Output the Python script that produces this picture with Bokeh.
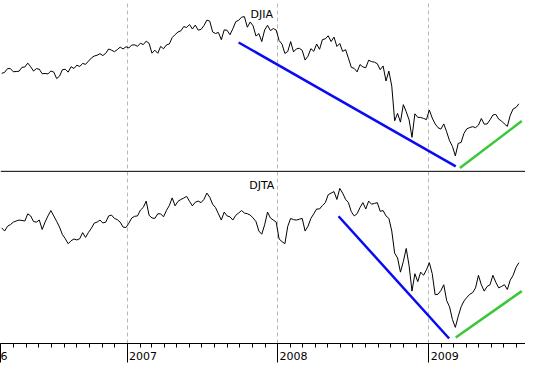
import pandas as pd
from bokeh.plotting import figure
from bokeh.models import Range1d, FixedTicker, Span, Label, CustomJSTickFormatter
from bokeh.embed import file_html
from bokeh.resources import INLINE

# ---------------- data ----------------
week_start = "2006-03-03"   # weekly closes (Fridays)

djia = [
    # 2006
    11022, 11076, 11279, 11280, 11109,
    11120, 11137, 11347, 11367,
    11577, 11380, 11144, 11278,
    11247, 11000, 11015, 10990, 11150,
    11090, 10739, 10868, 11219,
    11240, 11088, 11381, 11284,
    11464, 11392, 11560, 11508, 11679,
    11850, 11960, 12002, 12090,
    11986, 12108, 12342, 12280,
    12194, 12307, 12445, 12343, 12463,
    # 2007
    12398, 12556, 12565, 12487,
    12653, 12580, 12767, 12647,
    12114, 12276, 12110, 12481, 12354,
    12560, 12612, 12961, 13120,
    13264, 13326, 13556, 13507,
    13668, 13424, 13639, 13360, 13408,
    13611, 13907, 13851, 13265,
    13181, 13239, 12845, 13378, 13358,
    13113, 13442, 13820, 13896,
    14066, 14093, 13522, 13806,
    13595, 13043, 13176, 12743, 13372,
    13625, 13339, 13450, 13366,
    # 2008
    12800, 12606, 12099, 12207,
    12743, 12183, 12348, 12381, 12266,
    11740, 11951, 12361, 12216,
    12610, 12325, 12849, 12891,
    13058, 12745, 12986, 12479, 12638,
    12210, 12307, 11843, 11346,
    11288, 11100, 11496, 11370,
    11326, 11734, 11659, 11628, 11543,
    11220, 11421, 10609, 11143,
    10325, 8451, 8852, 8378, 9325,
    8943, 8497, 7552, 8829,
    8635, 8629, 8579, 8515,
    # 2009
    9034, 8599, 8281, 8077, 8000,
    8280, 7850, 7366, 7063,
    6547, 7224, 7278, 7776,
    8018, 8083, 8131, 8076,
    8212, 8575, 8268, 8277, 8500,
    8763, 8799, 8539, 8438,
    8280, 8146, 8743, 9093, 9172,
    9370,
]

djta = [
    # 2006
    4561, 4485, 4600, 4640, 4700, 4727, 4750, 4740, 4727, 4900,
    4850, 4714, 4700, 4750, 4522, 4700, 4850, 4979, 4850, 4720,
    4580, 4400, 4300, 4179, 4250, 4294, 4270, 4300, 4447, 4332,
    4450, 4550, 4675, 4700, 4750, 4680, 4700, 4850, 4870, 4789,
    4760, 4700, 4580, 4570,
    # 2007
    4675, 4800, 4840, 4850, 4990, 5056, 5207, 4865, 4800, 4789,
    4900, 4900, 4828, 4980, 5100, 5285, 5093, 5200, 5246, 5280,
    5321, 5200, 5093, 5180, 5207, 5170, 5250, 5400, 5300, 5132,
    5050, 4900, 4750, 4942, 4850, 4828, 4750, 4865, 4920, 4979,
    4920, 4903, 4870, 4800, 4714, 4485, 4408, 4636, 4942, 4800,
    4750, 4700,
    # 2008
    4294, 4230, 4179, 4600, 4789, 4760, 4750, 4770, 4789, 4485,
    4600, 4789, 4900, 5017, 5017, 5100, 5170, 5360, 5400, 5436,
    5246, 5513, 5399, 5250, 5170, 4950, 4850, 4903, 5050, 5170,
    5017, 5207, 5132, 5150, 5170, 4960, 4979, 4850, 4789, 4485,
    3951, 3836, 3494, 3750, 4065, 3647, 3037, 3457, 3266, 3494,
    3418, 3550,
    # 2009
    3722, 3457, 2951, 2961, 3050, 3190, 2809, 2658, 2352, 2163,
    2429, 2658, 2800, 2886, 2962, 3000, 3115, 3418, 3190, 3037,
    3150, 3190, 3418, 3250, 3115, 3150, 3190, 3076, 3300, 3418,
    3608, 3722,
]

djia_down_dates = ["2007-09-28", "2009-03-07"]
djia_down_vals = [12695, 5982]
djia_up_dates = ["2009-03-17", "2009-08-14"]
djia_up_vals = [5895, 8432]

djta_down_dates = ["2008-05-27", "2009-02-19"]
djta_down_vals = [4842, 1895]
djta_up_dates = ["2009-03-07", "2009-08-14"]
djta_up_vals = [1918, 3037]

year_ticks = ["2007-01-01", "2008-01-01", "2009-01-01"]
year_labels = ["2007", "2008", "2009"]
first_label = "6"     # visible remainder of the clipped "2006" at the left edge
month_start, month_end = "2006-03-01", "2009-08-01"
x_start, x_end = "2006-02-28", "2009-08-23"

djia_range = (-3622, 14970)
djta_range = (1774, 10043)
separator_djia = 5710

# ---------------- helpers ----------------
def ms(d):
    return pd.Timestamp(d).value // 10**6

def dts(lst):
    return [pd.Timestamp(d) for d in lst]

weeks = pd.date_range(week_start, periods=len(djia), freq="7D")

font = "DejaVu Sans"
NB = "\u00a0"

p = figure(width=525, height=365, x_axis_type="datetime",
           y_axis_location=None, toolbar_location=None,
           output_backend="svg", min_border=0,
           x_range=Range1d(ms(x_start), ms(x_end)),
           y_range=Range1d(*djia_range))
p.extra_y_ranges = {"djta": Range1d(*djta_range)}
p.outline_line_color = None
p.background_fill_color = "white"
p.border_fill_color = "white"

# grid
year_ms = [ms(d) for d in year_ticks]
month_ms = [ms(d) for d in pd.date_range(month_start, month_end, freq="MS")]
p.ygrid.visible = False
p.xgrid.ticker = FixedTicker(ticks=year_ms)
p.xgrid.grid_line_color = "#b8b8b8"
p.xgrid.grid_line_dash = "4 3"
p.xgrid.grid_line_width = 1

# axis
tick_ms = [ms(x_start)] + year_ms
# centred texts: padding puts each year just right of its tick
tick_texts = [first_label + NB * 3] + [NB * 9 + t for t in year_labels]

ax = p.xaxis[0]
ax.ticker = FixedTicker(ticks=tick_ms, minor_ticks=month_ms)
ax.formatter = CustomJSTickFormatter(
    args=dict(tpos=tick_ms, ttxt=tick_texts),
    code="""
    let best = 0;
    for (let k = 1; k < tpos.length; k++) {
        if (Math.abs(tpos[k] - tick) < Math.abs(tpos[best] - tick)) best = k;
    }
    return ttxt[best];
""")
ax.axis_label = None
ax.axis_label_standoff = 0
ax.axis_line_color = "black"
ax.major_tick_line_color = "black"
ax.minor_tick_line_color = "black"
ax.major_tick_in = 0
ax.major_tick_out = 19
ax.minor_tick_in = 0
ax.minor_tick_out = 4
ax.major_label_standoff = -13
ax.major_label_text_font = font
ax.major_label_text_font_size = "11px"
ax.major_label_text_color = "black"

# separator between panels
p.add_layout(Span(location=separator_djia, dimension="width",
                  line_color="black", line_width=1))

# series
p.line(weeks, djia, line_color="black", line_width=1)
p.line(weeks, djta, line_color="black", line_width=1, y_range_name="djta")

# trend lines
blue = "#0a0af5"
green = "#38c838"
p.line(dts(djia_down_dates), djia_down_vals, line_color=blue, line_width=2.5)
p.line(dts(djia_up_dates), djia_up_vals, line_color=green, line_width=2.5)
p.line(dts(djta_down_dates), djta_down_vals, line_color=blue, line_width=2.5,
       y_range_name="djta")
p.line(dts(djta_up_dates), djta_up_vals, line_color=green, line_width=2.5,
       y_range_name="djta")

# titles
p.add_layout(Label(x=ms("2007-11-23"), y=14200, text="DJIA",
                   text_align="center", text_baseline="alphabetic",
                   text_font=font, text_font_size="11px", text_color="black"))
p.add_layout(Label(x=ms("2007-11-23"), y=5589, text="DJTA",
                   y_range_name="djta",
                   text_align="center", text_baseline="alphabetic",
                   text_font=font, text_font_size="11px", text_color="black"))

open("out.html", "w").write(file_html(p, INLINE))
